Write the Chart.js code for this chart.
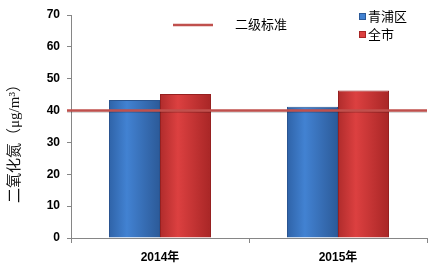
<!DOCTYPE html>
<html>
<head>
<meta charset="utf-8">
<script src="https://cdn.jsdelivr.net/npm/chart.js@4/dist/chart.umd.min.js"></script>
<style>
  html, body { margin: 0; padding: 0; background: #fff; }
  #wrap { width: 441px; height: 269px; }
</style>
</head>
<body>
<div id="wrap"><canvas id="no2Chart" width="441" height="269"></canvas></div>
<script>
const years = ["2014年", "2015年"];
const qingpu = [43.3, 41.2];
const city = [45.2, 46.3];
const standardValue = 40;
const standardLabel = "二级标准";
const yTicks = [0, 10, 20, 30, 40, 50, 60, 70];
const yTitle = "二氧化氮（μg/m³）";

const CJK = '"Noto Sans CJK SC"';
const SANS = '"Liberation Sans", Arial, ' + CJK + ', sans-serif';

// bar shading: left, middle, right
const shades = {
  blue: ["#2f63a8", "#4282d2", "#2c5a98"],
  red: ["#b02c2c", "#dc4040", "#a82626"],
};

const barShade = {
  id: "barShade",
  beforeDatasetsDraw(chart) {
    const ctx = chart.ctx;
    chart.data.datasets.forEach((ds, di) => {
      const meta = chart.getDatasetMeta(di);
      const s = shades[ds.shade];
      if (!s) return;
      meta.data.forEach((el) => {
        const g = ctx.createLinearGradient(el.x - el.width / 2, 0, el.x + el.width / 2, 0);
        g.addColorStop(0, s[0]);
        g.addColorStop(0.35, s[1]);
        g.addColorStop(1, s[2]);
        el.options = Object.assign({}, el.options, { backgroundColor: g });
      });
    });
  },
};

// standard line across the plot, legends, y title
const overlay = {
  id: "overlay",
  afterDatasetsDraw(chart) {
    const ctx = chart.ctx;
    const y = chart.scales.y.getPixelForValue(standardValue);
    const area = chart.chartArea;
    ctx.save();
    ctx.strokeStyle = "rgba(0,0,0,0.15)";
    ctx.lineWidth = 2;
    ctx.beginPath();
    ctx.moveTo(area.left - 4, y + 1.5);
    ctx.lineTo(area.right, y + 1.5);
    ctx.stroke();
    ctx.strokeStyle = "#c0504d";
    ctx.lineWidth = 2.5;
    ctx.beginPath();
    ctx.moveTo(area.left - 4, y);
    ctx.lineTo(area.right, y);
    ctx.stroke();

    // line legend
    ctx.beginPath();
    ctx.moveTo(173, 25);
    ctx.lineTo(213, 25);
    ctx.stroke();
    ctx.fillStyle = "#000";
    ctx.font = "13px " + CJK;
    ctx.textBaseline = "middle";
    ctx.fillText(standardLabel, 235, 24);

    // series legend
    chart.data.datasets.forEach((ds, i) => {
      const s = shades[ds.shade];
      const ly = 16 + i * 18;
      ctx.fillStyle = s[1];
      ctx.fillRect(359, ly - 3, 7, 7);
      ctx.strokeStyle = s[2];
      ctx.lineWidth = 1;
      ctx.strokeRect(359.5, ly - 2.5, 6, 6);
      ctx.fillStyle = "#000";
      ctx.font = "13px " + CJK;
      ctx.fillText(ds.label, 368, ly);
    });

    // y axis title
    ctx.translate(15, 140);
    ctx.rotate(-Math.PI / 2);
    ctx.textAlign = "center";
    ctx.fillStyle = "#111";
    ctx.font = '15px "Liberation Serif", ' + CJK + ', serif';
    ctx.fillText(yTitle, 0, 0);
    ctx.restore();
  },
};

new Chart(document.getElementById("no2Chart"), {
  type: "bar",
  data: {
    labels: years,
    datasets: [
      { label: "青浦区", data: qingpu, shade: "blue", backgroundColor: shades.blue[1], borderColor: "#2a5490", borderWidth: 1 },
      { label: "全市", data: city, shade: "red", backgroundColor: shades.red[1], borderColor: "#962020", borderWidth: 1 },
    ],
  },
  plugins: [barShade, overlay],
  options: {
    responsive: false,
    animation: false,
    devicePixelRatio: 1,
    categoryPercentage: 0.573,
    barPercentage: 1,
    layout: { padding: { top: 15, right: 14, left: 0, bottom: 0 } },
    plugins: { legend: { display: false }, tooltip: { enabled: false } },
    scales: {
      x: {
        grid: { offset: true, drawOnChartArea: false, drawTicks: true, tickLength: 5, color: "#868686" },
        border: { color: "#868686" },
        ticks: { color: "#000", font: { family: SANS, size: 12, weight: "bold" }, padding: 7 },
        afterFit(s) { s.height = 31; },
      },
      y: {
        min: 0,
        max: 70,
        afterBuildTicks(s) { s.ticks = yTicks.map((v) => ({ value: v })); },
        grid: { drawOnChartArea: false, tickLength: 4, color: "#868686" },
        border: { color: "#868686" },
        ticks: { color: "#000", font: { family: SANS, size: 12, weight: "bold" }, padding: 7 },
        afterFit(s) { s.width = 71; },
      },
    },
  },
});
</script>
</body>
</html>
